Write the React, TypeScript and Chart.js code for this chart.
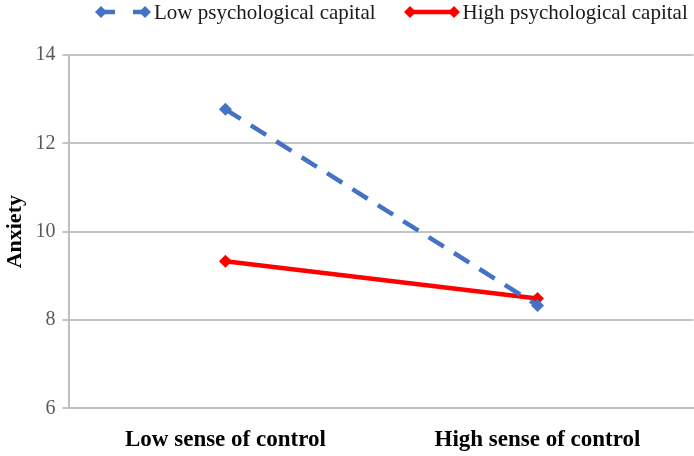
import React, { useEffect, useRef } from "react";
import { Chart, registerables } from "chart.js";

Chart.register(...registerables);

const categories = ["Low sense of control", "High sense of control"];
const lowPsyCap = [12.77, 8.33];
const highPsyCap = [9.33, 8.49];
const yTicks = [6, 8, 10, 12, 14];
const seriesNames = ["Low psychological capital", "High psychological capital"];

const BLUE = "#4472C4";
const RED = "#FF0000";
const SERIF = "'Liberation Serif', 'Times New Roman', serif";

function Marker({ color, dashed }: { color: string; dashed: boolean }) {
  return (
    <svg width={58} height={16} style={{ display: "block" }}>
      <line
        x1={7}
        y1={8}
        x2={51}
        y2={8}
        stroke={color}
        strokeWidth={4.5}
        strokeDasharray={dashed ? "14 18 14" : undefined}
      />
      <polygon points="1,8 7,2 13,8 7,14" fill={color} />
      <polygon points="45,8 51,2 57,8 51,14" fill={color} />
    </svg>
  );
}

export default function App() {
  const ref = useRef<HTMLCanvasElement>(null);
  useEffect(() => {
    document.body.style.margin = "0";
    const chart = new Chart(ref.current!, {
      type: "line",
      data: {
        labels: categories,
        datasets: [
          {
            label: seriesNames[0],
            data: lowPsyCap,
            borderColor: BLUE,
            backgroundColor: BLUE,
            borderWidth: 4.5,
            borderDash: [18, 12],
            pointStyle: "rectRot",
            pointRadius: 6.5,
            pointBackgroundColor: BLUE,
            pointBorderWidth: 0,
          },
          {
            label: seriesNames[1],
            data: highPsyCap,
            borderColor: RED,
            backgroundColor: RED,
            borderWidth: 4.5,
            pointStyle: "rectRot",
            pointRadius: 6.5,
            pointBackgroundColor: RED,
            pointBorderWidth: 0,
          },
        ],
      },
      options: {
        responsive: false,
        animation: false,
        layout: { padding: { top: 55, right: 0, left: 2, bottom: -16 } },
        plugins: {
          tooltip: { enabled: false },
          legend: { display: false },
        },
        scales: {
          x: {
            offset: true,
            grid: { display: false, drawTicks: false },
            border: { display: true, color: "#BFBFBF", width: 2 },
            ticks: {
              padding: 18,
              color: "#000",
              font: { family: SERIF, size: 23, weight: "bold" },
            },
          },
          y: {
            min: 6,
            max: 14,
            afterBuildTicks: (axis: any) => {
              axis.ticks = yTicks.map((v) => ({ value: v }));
            },
            grid: { color: "#C4C4C4", lineWidth: 2, tickLength: 7 },
            border: { display: true, color: "#BFBFBF", width: 2 },
            ticks: {
              padding: 7,
              color: "#595959",
              font: { family: SERIF, size: 20 },
            },
            title: {
              display: true,
              text: "Anxiety",
              color: "#000",
              padding: { top: 0, bottom: 0 },
              font: { family: SERIF, size: 22, weight: "bold" },
            },
          },
        },
      },
    });
    return () => chart.destroy();
  }, []);
  const legendText: React.CSSProperties = {
    fontFamily: SERIF,
    fontSize: 21,
    color: "#1a1a1a",
    lineHeight: "24px",
    whiteSpace: "nowrap",
  };
  return (
    <div style={{ position: "relative", width: 694, height: 456, overflow: "hidden" }}>
      <canvas ref={ref} width={700} height={456} style={{ display: "block" }} />
      <div
        style={{
          position: "absolute",
          left: 94,
          top: 0,
          display: "flex",
          alignItems: "center",
          height: 24,
        }}
      >
        <Marker color={BLUE} dashed={true} />
        <span style={{ ...legendText, marginLeft: 2 }}>{seriesNames[0]}</span>
        <div style={{ width: 27 }} />
        <Marker color={RED} dashed={false} />
        <span style={{ ...legendText, marginLeft: 2 }}>{seriesNames[1]}</span>
      </div>
    </div>
  );
}
